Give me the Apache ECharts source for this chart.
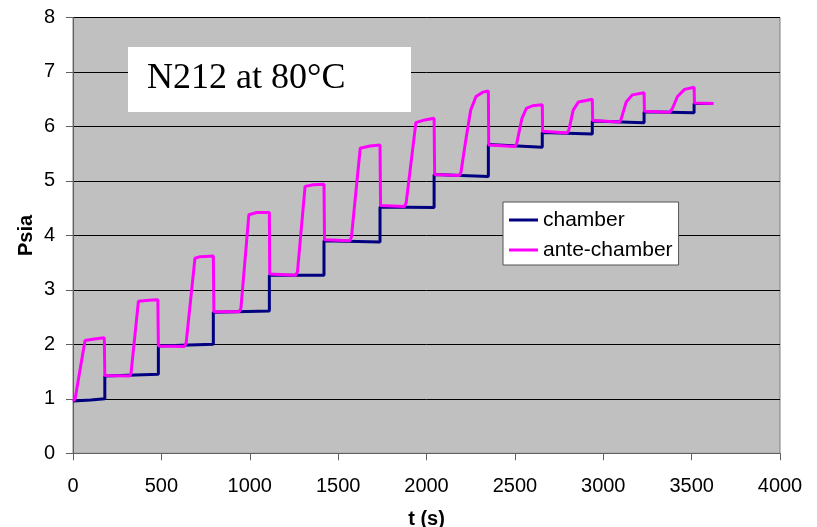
<!DOCTYPE html>
<html>
<head>
<meta charset="utf-8">
<script src="https://cdn.jsdelivr.net/npm/echarts@6/dist/echarts.min.js"></script>
<style>
  html, body { margin: 0; padding: 0; background: #ffffff; }
  #chart { width: 817px; height: 527px; }
</style>
</head>
<body>
<div id="chart"></div>
<script>
// Pressure-step test: chamber vs ante-chamber pressure (Psia) over time (s)
const xTicks = [0, 500, 1000, 1500, 2000, 2500, 3000, 3500, 4000];
const yTicks = [0, 1, 2, 3, 4, 5, 6, 7, 8];

// chamber pressure: [time s, Psia]
const chamberT = [0, 100, 180, 180, 483, 483, 794, 794, 1111, 1111, 1420, 1420, 1737, 1737,
  2043, 2043, 2350, 2350, 2655, 2655, 2938, 2938, 3231, 3231, 3514, 3514, 3612];
const chamberP = [0.96, 0.98, 1.00, 1.42, 1.45, 1.97, 2.00, 2.59, 2.61, 3.27, 3.27, 3.90, 3.88, 4.52,
  4.51, 5.12, 5.08, 5.67, 5.62, 5.89, 5.86, 6.10, 6.07, 6.27, 6.25, 6.42, 6.42];

// ante-chamber pressure: [time s, Psia]
const anteT = [0, 12, 68, 120, 177, 180, 320, 328, 370, 430, 480, 483, 630, 640, 690, 720, 794, 797,
  940, 950, 995, 1040, 1111, 1113, 1260, 1270, 1313, 1360, 1420, 1423, 1565, 1575, 1625, 1680, 1737, 1740,
  1875, 1885, 1940, 1990, 2043, 2046, 2185, 2195, 2220, 2250, 2280, 2320, 2350, 2352,
  2500, 2510, 2540, 2565, 2600, 2655, 2657, 2795, 2805, 2830, 2860, 2938, 2940,
  3090, 3100, 3130, 3165, 3231, 3233, 3375, 3390, 3420, 3460, 3514, 3516, 3625];
const anteP = [0.96, 1.00, 2.07, 2.10, 2.12, 1.43, 1.42, 1.46, 2.79, 2.81, 2.82, 1.97, 1.96, 2.02, 3.58, 3.61, 3.62, 2.60,
  2.60, 2.66, 4.38, 4.42, 4.42, 3.29, 3.27, 3.33, 4.90, 4.93, 4.94, 3.92, 3.90, 3.96, 5.60, 5.64, 5.66, 4.55,
  4.53, 4.60, 6.07, 6.12, 6.15, 5.12, 5.10, 5.16, 5.70, 6.30, 6.55, 6.63, 6.65, 5.66,
  5.63, 5.68, 6.15, 6.33, 6.38, 6.40, 5.91, 5.88, 5.93, 6.30, 6.45, 6.50, 6.11,
  6.08, 6.12, 6.45, 6.58, 6.62, 6.28, 6.26, 6.32, 6.55, 6.68, 6.72, 6.43, 6.42];

const pairs = (ts, vs) => ts.map((t, i) => [t, vs[i]]);

const FONT = '"Liberation Sans", Arial, sans-serif';
const chart = echarts.init(document.getElementById('chart'), null, { renderer: 'canvas' });

chart.setOption({
  animation: false,
  backgroundColor: '#ffffff',
  grid: {
    left: 73, right: 37, top: 17.5, bottom: 73.7,
    containLabel: false, outerBoundsMode: 'none',
    show: true, backgroundColor: '#C0C0C0', borderColor: '#808080', borderWidth: 1
  },
  xAxis: {
    type: 'value', min: xTicks[0], max: xTicks[xTicks.length - 1], interval: 500,
    name: 't (s)', nameLocation: 'middle', nameGap: 56, nameMoveOverlap: false,
    nameTextStyle: { fontFamily: FONT, fontSize: 20, fontWeight: 'bold', color: '#000', verticalAlign: 'top' },
    axisLine: { show: true, onZero: false, lineStyle: { color: '#606060', width: 1 } },
    axisTick: { show: true, inside: false, length: 7, lineStyle: { color: '#606060' } },
    axisLabel: { fontFamily: FONT, fontSize: 20, color: '#000', margin: 23, formatter: v => String(v) },
    splitLine: { show: false }
  },
  yAxis: {
    type: 'value', min: yTicks[0], max: yTicks[yTicks.length - 1], interval: 1,
    name: 'Psia', nameLocation: 'middle', nameGap: 37, nameMoveOverlap: false,
    nameTextStyle: { fontFamily: FONT, fontSize: 20, fontWeight: 'bold', color: '#000', verticalAlign: 'bottom' },
    axisLine: { show: true, onZero: false, lineStyle: { color: '#606060', width: 1 } },
    axisTick: { show: true, inside: false, length: 7, lineStyle: { color: '#606060' } },
    axisLabel: { fontFamily: FONT, fontSize: 20, color: '#000', margin: 18, formatter: v => String(v) },
    splitLine: { show: true, lineStyle: { color: '#000000', width: 1 } }
  },
  legend: {
    left: 503, top: 202, orient: 'vertical',
    backgroundColor: '#ffffff', borderColor: '#555555', borderWidth: 1,
    padding: [6, 6, 3, 6], itemGap: 6, itemWidth: 29, itemHeight: 3,
    icon: 'rect',
    textStyle: { fontFamily: FONT, fontSize: 21, color: '#000', lineHeight: 24 },
    data: ['chamber', 'ante-chamber']
  },
  graphic: [
    {
      type: 'rect', left: 128, top: 47, z: 100,
      shape: { width: 283, height: 65 },
      style: { fill: '#ffffff' }
    },
    {
      type: 'text', left: 147, top: 61, z: 101,
      style: { text: 'N212 at 80°C', font: '36px "Liberation Serif", "Times New Roman", serif', fill: '#000' }
    }
  ],
  series: [
    {
      name: 'chamber', type: 'line', data: pairs(chamberT, chamberP),
      symbol: 'none', lineStyle: { color: '#000080', width: 3 }, itemStyle: { color: '#000080' }
    },
    {
      name: 'ante-chamber', type: 'line', data: pairs(anteT, anteP),
      symbol: 'none', lineStyle: { color: '#FF00FF', width: 3 }, itemStyle: { color: '#FF00FF' }
    }
  ]
});
</script>
</body>
</html>
